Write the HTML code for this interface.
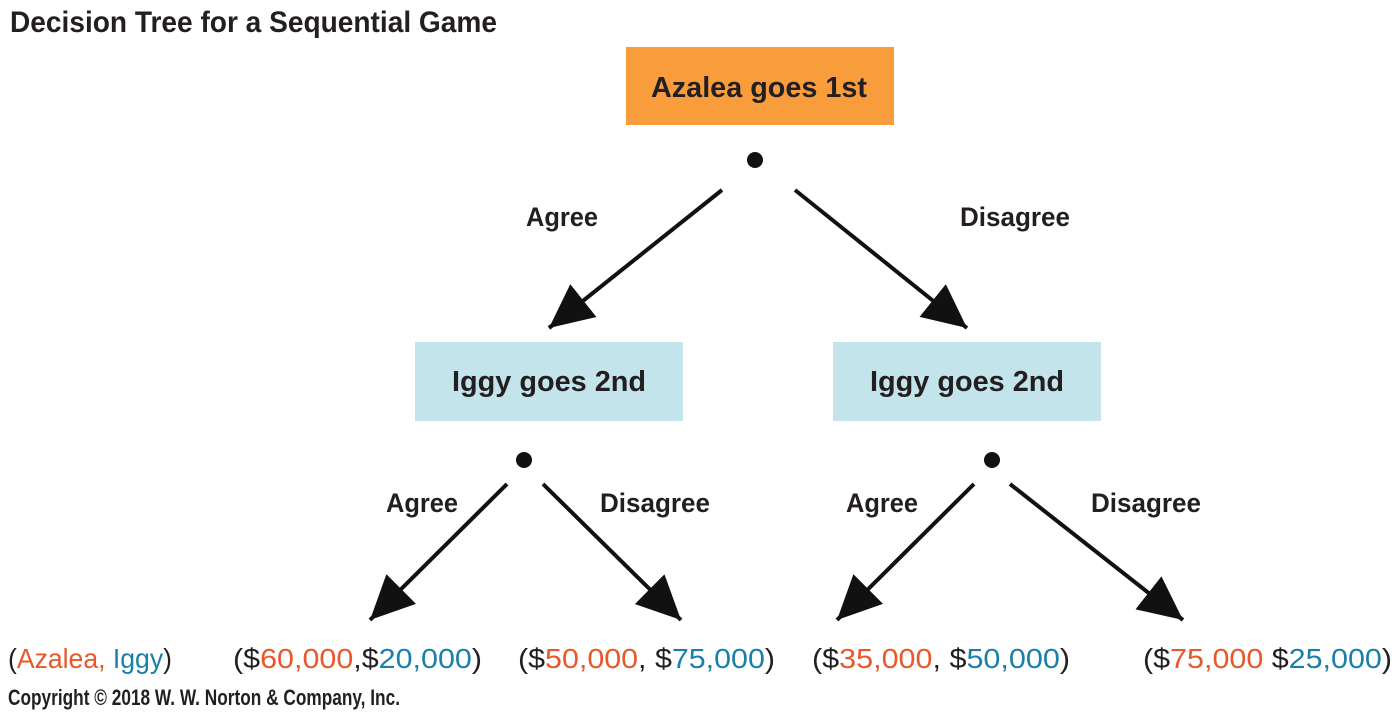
<!DOCTYPE html>
<html><head><meta charset="utf-8"><style>
html,body{margin:0;padding:0;background:#fff;}
svg{display:block}
text{font-family:"Liberation Sans Narrow","Liberation Sans",sans-serif;}
.b{font-weight:bold}
.o{fill:#e8582a}.c{fill:#1a80aa}.k{fill:#231f20}
</style></head><body>
<svg width="1400" height="712" viewBox="0 0 1400 712" xmlns="http://www.w3.org/2000/svg">
<defs>
<marker id="a" markerUnits="userSpaceOnUse" markerWidth="50" markerHeight="46" refX="44" refY="21" orient="auto">
<path d="M0,0 L44,21 L0,42 Z" fill="#111"/>
</marker>
</defs>
<text x="10" y="32" class="b k" font-size="30" textLength="487" lengthAdjust="spacingAndGlyphs">Decision Tree for a Sequential Game</text>
<rect x="626" y="47" width="268" height="78" fill="#f89c3c"/>
<text x="759" y="97" class="b k" font-size="29" text-anchor="middle" textLength="216" lengthAdjust="spacingAndGlyphs">Azalea goes 1st</text>
<circle cx="755" cy="160" r="8" fill="#111"/>
<g stroke="#111" stroke-width="4">
<line x1="722" y1="190" x2="549" y2="328" marker-end="url(#a)"/>
<line x1="795" y1="190" x2="967" y2="328" marker-end="url(#a)"/>
<line x1="507" y1="484" x2="370" y2="620" marker-end="url(#a)"/>
<line x1="543" y1="484" x2="681" y2="620" marker-end="url(#a)"/>
<line x1="974" y1="484" x2="837" y2="620" marker-end="url(#a)"/>
<line x1="1010" y1="484" x2="1183" y2="620" marker-end="url(#a)"/>
</g>
<text x="562" y="226" class="b k" font-size="27" text-anchor="middle" textLength="72" lengthAdjust="spacingAndGlyphs">Agree</text>
<text x="1015" y="226" class="b k" font-size="27" text-anchor="middle" textLength="110" lengthAdjust="spacingAndGlyphs">Disagree</text>
<rect x="415" y="342" width="268" height="79" fill="#c2e4ea"/>
<rect x="833" y="342" width="268" height="79" fill="#c2e4ea"/>
<text x="549" y="391" class="b k" font-size="29" text-anchor="middle" textLength="194" lengthAdjust="spacingAndGlyphs">Iggy goes 2nd</text>
<text x="967" y="391" class="b k" font-size="29" text-anchor="middle" textLength="194" lengthAdjust="spacingAndGlyphs">Iggy goes 2nd</text>
<circle cx="524" cy="460" r="8" fill="#111"/>
<circle cx="992" cy="460" r="8" fill="#111"/>
<text x="422" y="512" class="b k" font-size="27" text-anchor="middle" textLength="72" lengthAdjust="spacingAndGlyphs">Agree</text>
<text x="655" y="512" class="b k" font-size="27" text-anchor="middle" textLength="110" lengthAdjust="spacingAndGlyphs">Disagree</text>
<text x="882" y="512" class="b k" font-size="27" text-anchor="middle" textLength="72" lengthAdjust="spacingAndGlyphs">Agree</text>
<text x="1146" y="512" class="b k" font-size="27" text-anchor="middle" textLength="110" lengthAdjust="spacingAndGlyphs">Disagree</text>
<g font-size="28">
<text x="8" y="668" textLength="164" lengthAdjust="spacingAndGlyphs"><tspan class="k">(</tspan><tspan class="o">Azalea, </tspan><tspan class="c">Iggy</tspan><tspan class="k">)</tspan></text>
<text x="233" y="668" textLength="249" lengthAdjust="spacingAndGlyphs"><tspan class="k">($</tspan><tspan class="o">60,000</tspan><tspan class="k">,$</tspan><tspan class="c">20,000</tspan><tspan class="k">)</tspan></text>
<text x="518" y="668" textLength="257" lengthAdjust="spacingAndGlyphs"><tspan class="k">($</tspan><tspan class="o">50,000</tspan><tspan class="k">, $</tspan><tspan class="c">75,000</tspan><tspan class="k">)</tspan></text>
<text x="812" y="668" textLength="258" lengthAdjust="spacingAndGlyphs"><tspan class="k">($</tspan><tspan class="o">35,000</tspan><tspan class="k">, $</tspan><tspan class="c">50,000</tspan><tspan class="k">)</tspan></text>
<text x="1143" y="668" textLength="249" lengthAdjust="spacingAndGlyphs"><tspan class="k">($</tspan><tspan class="o">75,000</tspan><tspan class="k"> $</tspan><tspan class="c">25,000</tspan><tspan class="k">)</tspan></text>
</g>
<text x="8" y="705" class="b k" font-size="22" textLength="392" lengthAdjust="spacingAndGlyphs">Copyright © 2018 W. W. Norton &amp; Company, Inc.</text>
</svg>
</body></html>
